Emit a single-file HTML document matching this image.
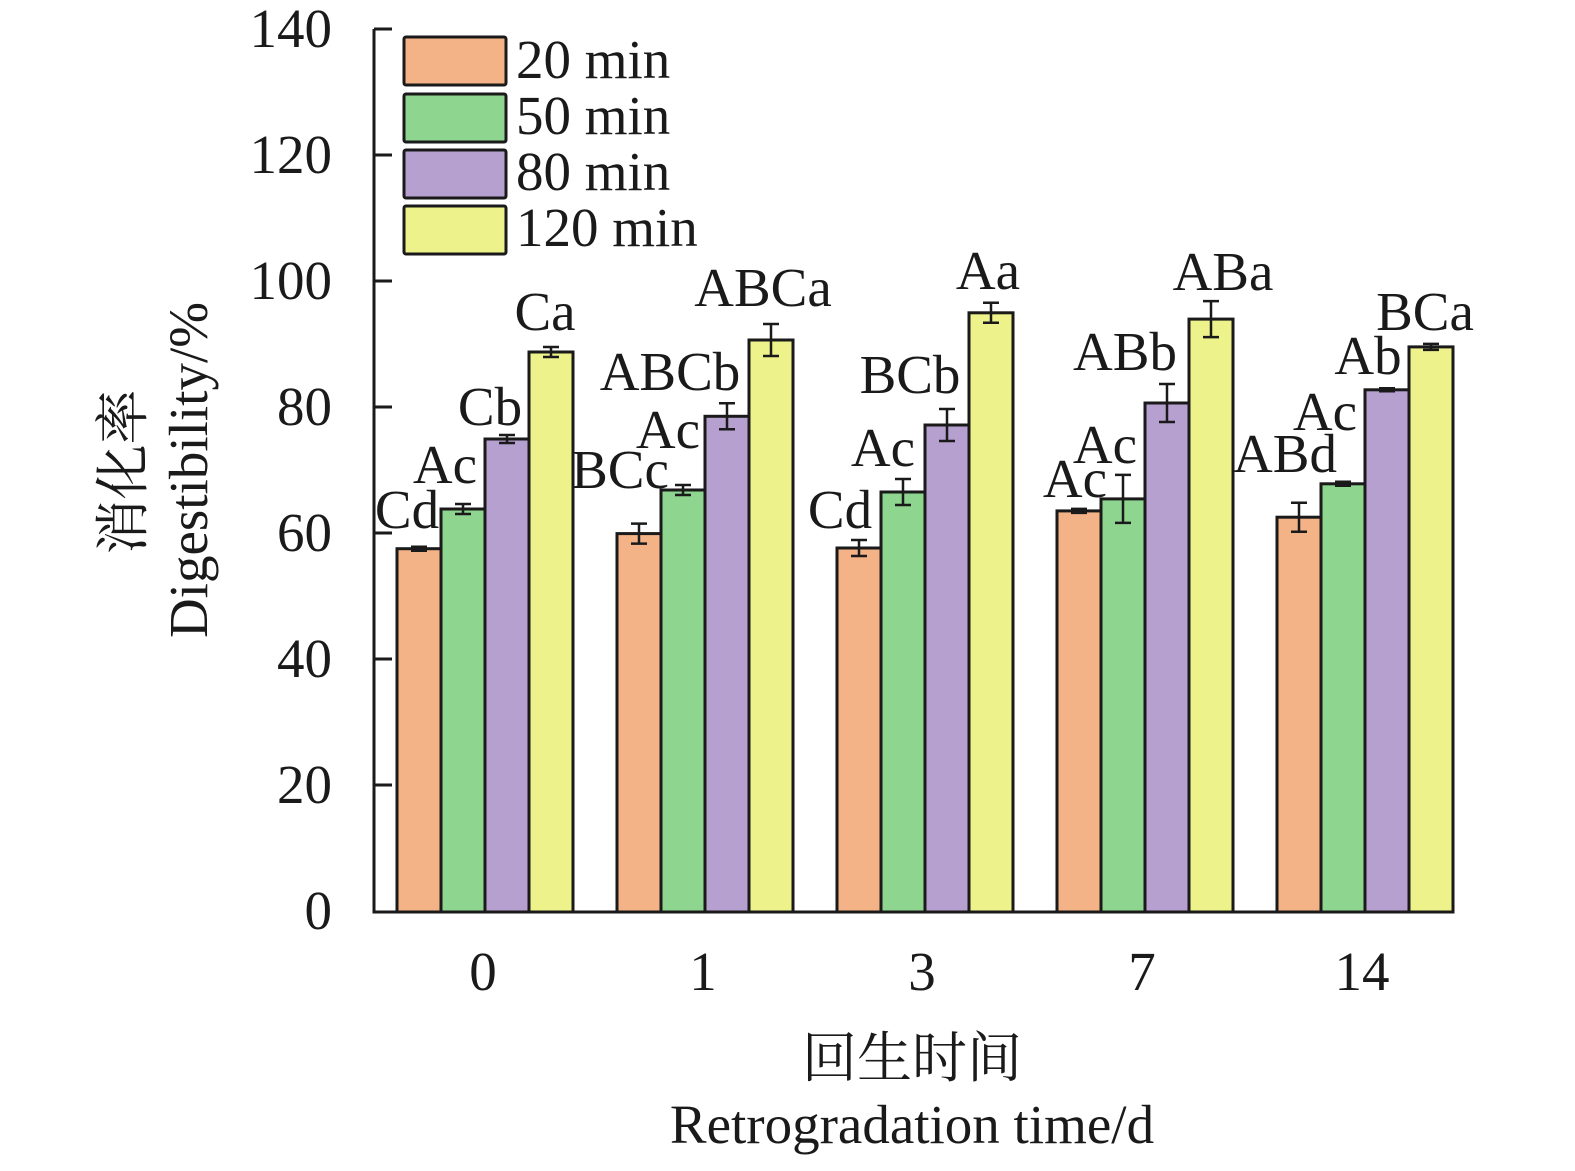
<!DOCTYPE html>
<html><head><meta charset="utf-8"><style>body{margin:0;background:#fff}</style></head><body>
<svg width="1575" height="1166" xmlns="http://www.w3.org/2000/svg" font-family="'Liberation Serif','Noto Serif CJK SC',serif" font-size="55">
<rect width="1575" height="1166" fill="#fff"/>
<g stroke="#1a1a1a" stroke-width="3">
<rect x="397" y="548.7" width="44" height="363.3" fill="#F4B387"/>
<rect x="441" y="509" width="44" height="403" fill="#8ED58F"/>
<rect x="485" y="439" width="44" height="473" fill="#B6A0D0"/>
<rect x="529" y="352" width="44" height="560" fill="#EEF28A"/>
<rect x="617" y="533.6" width="44" height="378.4" fill="#F4B387"/>
<rect x="661" y="490" width="44" height="422" fill="#8ED58F"/>
<rect x="705" y="416.3" width="44" height="495.7" fill="#B6A0D0"/>
<rect x="749" y="340" width="44" height="572" fill="#EEF28A"/>
<rect x="837" y="548" width="44" height="364" fill="#F4B387"/>
<rect x="881" y="492" width="44" height="420" fill="#8ED58F"/>
<rect x="925" y="425" width="44" height="487" fill="#B6A0D0"/>
<rect x="969" y="312.8" width="44" height="599.2" fill="#EEF28A"/>
<rect x="1057" y="510.9" width="44" height="401.1" fill="#F4B387"/>
<rect x="1101" y="498.9" width="44" height="413.1" fill="#8ED58F"/>
<rect x="1145" y="403" width="44" height="509" fill="#B6A0D0"/>
<rect x="1189" y="319.1" width="44" height="592.9" fill="#EEF28A"/>
<rect x="1277" y="517.2" width="44" height="394.8" fill="#F4B387"/>
<rect x="1321" y="483.8" width="44" height="428.2" fill="#8ED58F"/>
<rect x="1365" y="389.8" width="44" height="522.2" fill="#B6A0D0"/>
<rect x="1409" y="346.9" width="44" height="565.1" fill="#EEF28A"/>
</g>
<g stroke="#1a1a1a" stroke-width="2.5" fill="none">
<path d="M419 546.7V550.7M411 546.7H427M411 550.7H427"/>
<path d="M463 504V514M455 504H471M455 514H471"/>
<path d="M507 435V443M499 435H515M499 443H515"/>
<path d="M551 347V357M543 347H559M543 357H559"/>
<path d="M639 523.6V543.6M631 523.6H647M631 543.6H647"/>
<path d="M683 485V495M675 485H691M675 495H691"/>
<path d="M727 403.3V429.3M719 403.3H735M719 429.3H735"/>
<path d="M771 324V356M763 324H779M763 356H779"/>
<path d="M859 540V556M851 540H867M851 556H867"/>
<path d="M903 479V505M895 479H911M895 505H911"/>
<path d="M947 409V441M939 409H955M939 441H955"/>
<path d="M991 302.8V322.8M983 302.8H999M983 322.8H999"/>
<path d="M1079 508.9V512.9M1071 508.9H1087M1071 512.9H1087"/>
<path d="M1123 474.9V522.9M1115 474.9H1131M1115 522.9H1131"/>
<path d="M1167 384V422M1159 384H1175M1159 422H1175"/>
<path d="M1211 301.1V337.1M1203 301.1H1219M1203 337.1H1219"/>
<path d="M1299 502.7V531.7M1291 502.7H1307M1291 531.7H1307"/>
<path d="M1343 481.8V485.8M1335 481.8H1351M1335 485.8H1351"/>
<path d="M1387 388.3V391.3M1379 388.3H1395M1379 391.3H1395"/>
<path d="M1431 343.9V349.9M1423 343.9H1439M1423 349.9H1439"/>
</g>
<g stroke="#1a1a1a" stroke-width="3" fill="none">
<path d="M374 29H392M374 29V912H1451"/>
<path d="M374 155H392M374 281H392M374 407H392M374 533H392M374 659H392M374 785H392"/>
</g>
<g text-anchor="end" fill="#1a1a1a">
<text x="332" y="47">140</text><text x="332" y="173">120</text><text x="332" y="299">100</text><text x="332" y="425">80</text><text x="332" y="551">60</text><text x="332" y="677">40</text><text x="332" y="803">20</text><text x="332" y="929">0</text>
</g>
<g text-anchor="middle" fill="#1a1a1a">
<text x="483" y="990">0</text><text x="703" y="990">1</text><text x="922" y="990">3</text><text x="1142" y="990">7</text><text x="1362" y="990">14</text>
<text x="912" y="1077">回生时间</text>
<text x="912" y="1143">Retrogradation time/d</text>
<text transform="translate(142,472) rotate(-90)">消化率</text>
<text transform="translate(207,470) rotate(-90)">Digestibility/%</text>
<text x="407" y="528">Cd</text><text x="445" y="483">Ac</text><text x="490" y="425">Cb</text><text x="545" y="330">Ca</text>
<text x="620" y="488">BCc</text><text x="668" y="448">Ac</text><text x="670" y="390">ABCb</text><text x="763" y="306">ABCa</text>
<text x="840" y="528">Cd</text><text x="883" y="466">Ac</text><text x="910" y="393">BCb</text><text x="988" y="289">Aa</text>
<text x="1075" y="497">Ac</text><text x="1105" y="463">Ac</text><text x="1125" y="370">ABb</text><text x="1223" y="290">ABa</text>
<text x="1285" y="472">ABd</text><text x="1325" y="430">Ac</text><text x="1368" y="374">Ab</text><text x="1425" y="330">BCa</text>
</g>
<g stroke="#1a1a1a" stroke-width="3">
<rect x="404" y="37" width="102" height="48" fill="#F4B387" rx="2"/>
<rect x="404" y="94" width="102" height="48" fill="#8ED58F" rx="2"/>
<rect x="404" y="150" width="102" height="48" fill="#B6A0D0" rx="2"/>
<rect x="404" y="206" width="102" height="48" fill="#EEF28A" rx="2"/>
</g>
<g fill="#1a1a1a">
<text x="516" y="78">20 min</text><text x="516" y="134">50 min</text><text x="516" y="190">80 min</text><text x="516" y="246">120 min</text>
</g>
</svg>
</body></html>
